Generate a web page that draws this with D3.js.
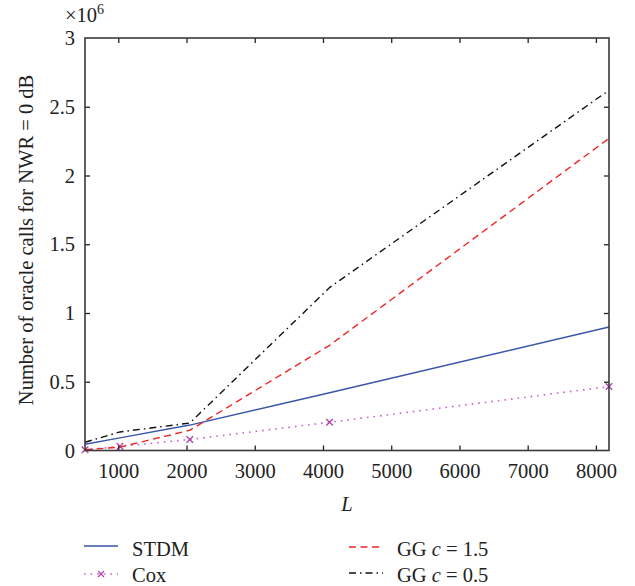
<!DOCTYPE html>
<html>
<head>
<meta charset="utf-8">
<script src="https://cdn.jsdelivr.net/npm/d3@7"></script>
<style>
  html, body { margin: 0; padding: 0; background: #fff; }
  svg text { font-family: "Liberation Serif", "DejaVu Serif", serif; fill: #222; }
</style>
</head>
<body>
<svg id="chart" width="635" height="586"></svg>
<script>
// ---- data (values in millions of oracle calls) ----
const Lvalues = [512, 1024, 2048, 4096, 8192];
const stdm  = [0.045, 0.092, 0.185, 0.42, 0.898];
const cox   = [0.005, 0.03, 0.08, 0.205, 0.465];
const gg15  = [0.005, 0.025, 0.147, 0.765, 2.27];
const gg05  = [0.06, 0.135, 0.2, 1.185, 2.62];
const xTicks = [1000, 2000, 3000, 4000, 5000, 6000, 7000, 8000];
const yTicks = [0, 0.5, 1, 1.5, 2, 2.5, 3];

const svg = d3.select("#chart");
const mLeft = 85, mRight = 609, mTop = 38, mBottom = 450.5;

const x = d3.scaleLinear().domain([512, 8192]).range([mLeft, mRight]);
const y = d3.scaleLinear().domain([0, 3]).range([mBottom, mTop]);

const series = [
  { name: "STDM", vals: stdm, color: "#3a55a8", dash: null, width: 1.4 },
  { name: "Cox", vals: cox, color: "#c763c7", dash: "1.6,5", width: 1.6, marker: true },
  { name: "GG15", vals: gg15, color: "#f02525", dash: "7,4.5", width: 1.4 },
  { name: "GG05", vals: gg05, color: "#111", dash: "7,4,1.5,4", width: 1.4 }
];

const line = d3.line().x(d => x(d[0])).y(d => y(d[1]));

const plot = svg.append("g");
series.forEach(s => {
  const pts = Lvalues.map((L, i) => [L, s.vals[i]]);
  plot.append("path")
    .attr("d", line(pts))
    .attr("fill", "none")
    .attr("stroke", s.color)
    .attr("stroke-width", s.width)
    .attr("stroke-dasharray", s.dash);
  if (s.marker) {
    pts.forEach(p => {
      const cx = x(p[0]), cy = y(p[1]), r = 3.3;
      plot.append("path")
        .attr("d", `M${cx - r},${cy - r}L${cx + r},${cy + r}M${cx - r},${cy + r}L${cx + r},${cy - r}`)
        .attr("stroke", "#b048b0").attr("stroke-width", 1.4).attr("fill", "none");
    });
  }
});

// axes (inward ticks on all four sides)
const fs = 20.5;
const axB = svg.append("g").attr("transform", `translate(0,${mBottom})`)
  .call(d3.axisBottom(x).tickValues(xTicks).tickSizeInner(-5).tickSizeOuter(0).tickPadding(13).tickFormat(d3.format("d")));
const axT = svg.append("g").attr("transform", `translate(0,${mTop})`)
  .call(d3.axisTop(x).tickValues(xTicks).tickSizeInner(-5).tickSizeOuter(0).tickFormat(""));
const axL = svg.append("g").attr("transform", `translate(${mLeft},0)`)
  .call(d3.axisLeft(y).tickValues(yTicks).tickSizeInner(-5).tickSizeOuter(0).tickPadding(10).tickFormat(d => d));
const axR = svg.append("g").attr("transform", `translate(${mRight},0)`)
  .call(d3.axisRight(y).tickValues(yTicks).tickSizeInner(-5).tickSizeOuter(0).tickFormat(""));
[axB, axT, axL, axR].forEach(a => {
  a.attr("font-family", null).attr("font-size", null);
  a.select(".domain").remove();
  a.selectAll(".tick line").attr("stroke", "#222").attr("stroke-width", 1.3);
  a.selectAll("text").style("font-size", fs + "px").attr("fill", "#222");
});
axL.selectAll(".tick").filter(d => d === 0 || d === 3).select("line").remove();
axR.selectAll(".tick").filter(d => d === 0 || d === 3).select("line").remove();

svg.append("rect")
  .attr("x", mLeft).attr("y", mTop).attr("width", mRight - mLeft).attr("height", mBottom - mTop)
  .attr("fill", "none").attr("stroke", "#3a3a3a").attr("stroke-width", 1.6);

// multiplier
const mult = svg.append("text").attr("x", 65).attr("y", 22).style("font-size", fs + "px");
mult.append("tspan").text("×10");
mult.append("tspan").style("font-size", "14px").attr("dy", -8).text("6");

// axis titles
svg.append("text")
  .attr("transform", `translate(33,240) rotate(-90)`)
  .attr("text-anchor", "middle").style("font-size", fs + "px")
  .text("Number of oracle calls for NWR = 0 dB");
svg.append("text").attr("x", (mLeft + mRight) / 2).attr("y", 511)
  .attr("text-anchor", "middle").style("font-size", fs + "px").attr("font-style", "italic").text("L");

// legend
const leg = [
  { s: series[0], x0: 84, ly: 546, ty: 556, label: [["STDM", false]] },
  { s: series[1], x0: 84, ly: 574, ty: 581.5, label: [["Cox", false]] },
  { s: series[2], x0: 349, ly: 547, ty: 556, label: [["GG ", false], ["c", true], [" = 1.5", false]] },
  { s: series[3], x0: 349, ly: 573, ty: 581.5, label: [["GG ", false], ["c", true], [" = 0.5", false]] }
];
leg.forEach(l => {
  svg.append("line")
    .attr("x1", l.x0).attr("x2", l.x0 + 34).attr("y1", l.ly).attr("y2", l.ly)
    .attr("stroke", l.s.color).attr("stroke-width", l.s.width)
    .attr("stroke-dasharray", l.s.dash);
  if (l.s.marker) {
    const cx = l.x0 + 17, cy = l.ly, r = 3;
    svg.append("path")
      .attr("d", `M${cx - r},${cy - r}L${cx + r},${cy + r}M${cx - r},${cy + r}L${cx + r},${cy - r}`)
      .attr("stroke", "#b048b0").attr("stroke-width", 1.3);
  }
  const t = svg.append("text").attr("x", l.x0 + 48).attr("y", l.ty).style("font-size", fs + "px");
  l.label.forEach(([txt, it]) => {
    t.append("tspan").attr("font-style", it ? "italic" : null).text(txt);
  });
});
</script>
</body>
</html>
